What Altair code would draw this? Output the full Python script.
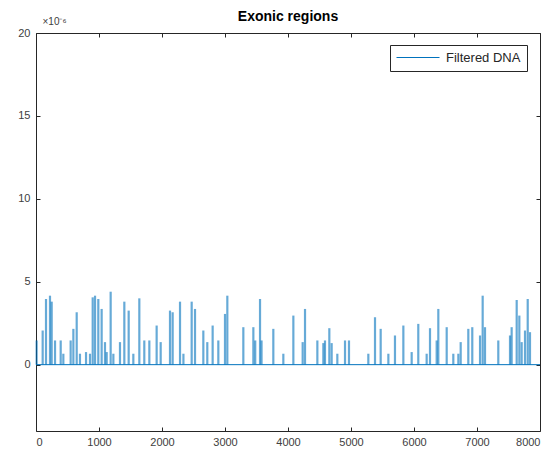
import altair as alt
import pandas as pd

# Spike positions (sample index) and amplitudes (x 1e-6)
positions = [10, 106, 159, 222, 249, 302, 392, 434, 550, 593, 646, 698, 794, 857,
             900, 937, 989, 1042, 1095, 1122, 1185, 1228, 1333, 1402, 1471, 1545,
             1640, 1719, 1799, 1915, 1979, 2127, 2169, 2286, 2340, 2471, 2524, 2656,
             2719, 2804, 2894, 3000, 3037, 3291, 3450, 3480, 3556, 3580, 3767, 3926,
             4085, 4233, 4270, 4466, 4561, 4587, 4656, 4693, 4783, 4905, 4968, 5275,
             5381, 5471, 5593, 5698, 5831, 5963, 6068, 6201, 6254, 6360, 6386, 6519,
             6624, 6704, 6741, 6862, 6925, 7048, 7090, 7127, 7338, 7524, 7550, 7630,
             7672, 7709, 7762, 7805, 7841]
amplitude_e6 = [1.46, 2.06, 3.96, 4.16, 3.8, 1.46, 1.46, 0.66, 1.46, 2.16, 3.16, 0.66, 0.76, 0.66,
                4.06, 4.16, 3.96, 3.36, 1.36, 0.76, 4.4, 0.66, 1.36, 3.8, 3.26, 0.66,
                4.0, 1.46, 1.46, 2.36, 1.36, 3.26, 3.16, 3.8, 0.66, 3.8, 3.36, 2.06,
                1.36, 2.36, 1.46, 3.06, 4.16, 2.26, 2.26, 1.46, 3.96, 1.46, 2.16, 0.66,
                2.96, 1.36, 3.36, 1.46, 1.3, 1.46, 2.2, 1.3, 0.66, 1.46, 1.46, 0.66,
                2.86, 2.16, 0.66, 1.76, 2.36, 0.76, 2.46, 0.66, 2.2, 1.46, 3.36, 2.26,
                0.66, 0.66, 1.36, 2.16, 2.26, 1.76, 4.16, 2.26, 1.46, 1.76, 2.26, 3.9,
                2.96, 1.36, 2.06, 3.96, 1.96]

x_ticks = [0, 1000, 2000, 3000, 4000, 5000, 6000, 7000, 8000]
y_ticks = [0, 5, 10, 15, 20]
series_name = "Filtered DNA"
title_text = "Exonic regions"

df = pd.DataFrame({"pos": positions, "amp": amplitude_e6, "zero": 0.0,
                   "series": series_name})
base_df = pd.DataFrame({"pos": [0, 8000], "amp": [0.0, 0.0], "series": series_name})

FONT = "Liberation Sans"
GREY = "#262626"
BLUE = "#0072BD"

xscale = alt.Scale(domain=[0, 8000], nice=False, zero=False)
yscale = alt.Scale(domain=[-4, 20], nice=False, zero=False)

x_bottom = alt.Axis(orient="bottom", values=x_ticks, format="d", grid=False,
                    domain=False, offset=-4, tickSize=4, tickColor=GREY,
                    labelPadding=5, labelFontSize=11, labelColor="#404040",
                    labelFont=FONT, title=None)
y_left = alt.Axis(orient="left", values=y_ticks, format="d", grid=False,
                  domain=False, offset=-4, tickSize=4, tickColor=GREY,
                  labelPadding=6, labelFontSize=11, labelColor="#404040",
                  labelFont=FONT, title="\u00d710\u207b\u2076", titleAngle=0,
                  titleAlign="left", titleBaseline="bottom", titleX=2, titleY=-7,
                  titleFont=FONT, titleFontSize=10, titleFontWeight="normal",
                  titleColor="#404040")
x_top = alt.Axis(orient="top", values=x_ticks, grid=False, domain=False, labels=False,
                 offset=-4, tickSize=4, tickColor=GREY, title=None)
y_right = alt.Axis(orient="right", values=y_ticks, grid=False, domain=False, labels=False,
                   offset=-4, tickSize=4, tickColor=GREY, title=None)

spikes = alt.Chart(df).mark_rule(strokeWidth=2.2, opacity=0.6, color=BLUE).encode(
    x=alt.X("pos:Q", scale=xscale, axis=x_bottom),
    y=alt.Y("amp:Q", scale=yscale, axis=y_left),
    y2="zero:Q",
)

baseline = alt.Chart(base_df).mark_line(strokeWidth=1).encode(
    x=alt.X("pos:Q", scale=xscale, axis=x_top),
    y=alt.Y("amp:Q", scale=yscale, axis=y_right),
    color=alt.Color("series:N", scale=alt.Scale(range=[BLUE]),
                    legend=alt.Legend(title=None, orient="none", legendX=354, legendY=12,
                                      symbolType="M-1.2,0H7.4", symbolSize=100,
                                      symbolStrokeWidth=1.2, symbolStrokeColor=BLUE,
                                      labelFont=FONT,
                                      labelFontSize=13, labelColor=GREY,
                                      strokeColor=GREY, fillColor="white",
                                      padding=6, labelOffset=37)),
)

chart = alt.layer(spikes, baseline).resolve_axis(
    x="independent", y="independent"
).properties(
    width=504, height=398,
    title=alt.TitleParams(title_text, font=FONT, fontSize=14, fontWeight="bold",
                          color="#000000", anchor="middle", offset=-8),
    autosize=alt.AutoSizeParams(type="none"),
    padding={"left": 28, "top": 25, "right": 10, "bottom": 20},
).configure_view(stroke=GREY, strokeWidth=1)

chart.save("out.html", embed_options={"renderer": "svg", "actions": False})
